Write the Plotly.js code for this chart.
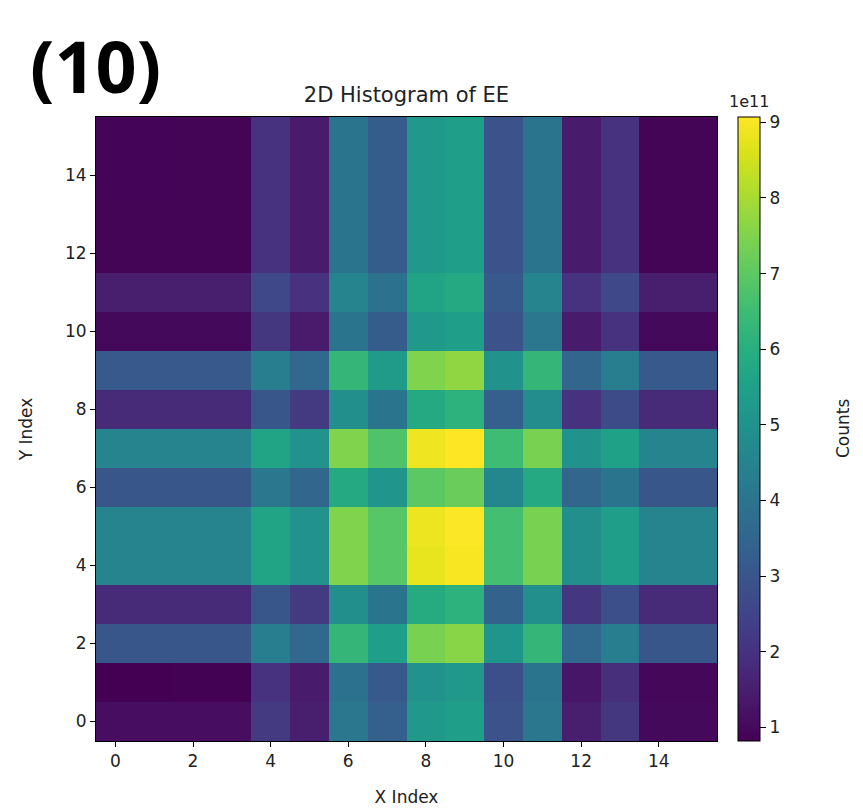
<!DOCTYPE html>
<html>
<head>
<meta charset="utf-8">
<script src="https://cdn.plot.ly/plotly-3.0.1.min.js"></script>
<style>html,body{margin:0;padding:0;background:#fff;}#chart{width:863px;height:808px;}</style>
</head>
<body>
<div id="chart"></div>
<script>
// Counts in units of 1e11; rows are Y index 0..15, columns X index 0..15
const xIndex = [0,1,2,3,4,5,6,7,8,9,10,11,12,13,14,15];
const yIndex = [0,1,2,3,4,5,6,7,8,9,10,11,12,13,14,15];
const row00 = [1.10,1.10,1.10,1.10, 2.2,1.5, 4.1,3.3, 5.2,5.4, 2.9,4.1, 1.5,2.1, 1.0,1.0];
const row01 = [0.82,0.82,0.85,0.85, 2.0,1.4, 3.9,3.1, 5.0,5.2, 2.8,4.0, 1.3,1.9, 0.95,0.95];
const row02 = [3.0,3.0,3.0,3.0, 4.3,3.6, 6.3,5.4, 7.4,7.6, 5.1,6.3, 3.6,4.3, 3.0,3.0];
const row03 = [1.8,1.8,1.8,1.8, 3.0,2.2, 4.9,4.0, 5.9,6.1, 3.4,4.9, 2.1,2.8, 1.8,1.8];
const row04 = [4.5,4.5,4.5,4.5, 5.6,5.0, 7.5,6.9, 8.8,9.0, 6.6,7.4, 4.9,5.4, 4.5,4.5];
const row05 = [4.5,4.5,4.5,4.5, 5.6,5.0, 7.5,6.9, 8.85,9.05, 6.6,7.4, 4.9,5.4, 4.5,4.5];
const row06 = [3.0,3.0,3.0,3.0, 4.1,3.5, 5.8,5.1, 7.0,7.2, 4.6,5.8, 3.5,4.0, 3.0,3.0];
const row07 = [4.5,4.5,4.5,4.5, 5.6,5.0, 7.5,6.8, 8.9,9.07, 6.5,7.4, 5.0,5.5, 4.5,4.5];
const row08 = [1.8,1.8,1.8,1.8, 3.0,2.2, 4.9,4.0, 5.8,6.1, 3.3,4.8, 2.0,2.7, 1.8,1.8];
const row09 = [3.1,3.1,3.1,3.1, 4.3,3.6, 6.3,5.3, 7.5,7.7, 5.0,6.3, 3.5,4.3, 3.1,3.1];
const row10 = [1.0,1.0,1.0,1.0, 2.1,1.4, 4.0,3.2, 5.2,5.4, 2.9,4.1, 1.4,2.0, 1.0,1.0];
const row11 = [1.5,1.5,1.5,1.5, 2.6,2.0, 4.5,3.9, 5.6,5.8, 3.1,4.5, 2.0,2.6, 1.5,1.5];
const row12 = [0.9,0.9,0.9,0.9, 2.0,1.4, 4.0,3.2, 5.2,5.4, 2.9,4.0, 1.4,2.0, 0.9,0.9];
const row13 = [0.9,0.9,0.9,0.9, 2.0,1.4, 4.0,3.2, 5.2,5.4, 2.9,4.0, 1.4,2.0, 0.9,0.9];
const row14 = [0.88,0.88,0.9,0.9, 2.0,1.4, 4.0,3.2, 5.2,5.4, 2.9,4.0, 1.4,2.0, 0.9,0.9];
const row15 = [0.88,0.88,0.9,0.9, 2.0,1.4, 4.0,3.2, 5.2,5.4, 2.9,4.0, 1.4,2.0, 0.9,0.9];
const axisTicks = [0,2,4,6,8,10,12,14];
const cbTickVals = [1,2,3,4,5,6,7,8,9];
const cbTickText = ['1','2','3','4','5','6','7','8','9'];

const z = [row00,row01,row02,row03,row04,row05,row06,row07,row08,row09,row10,row11,row12,row13,row14,row15];

const FONT = 'DejaVu Sans, sans-serif';
const TXT = '#222';

const trace = {
  type: 'heatmap',
  x: xIndex, y: yIndex, z: z,
  colorscale: 'Viridis',
  showscale: true,
  hoverinfo: 'skip',
  colorbar: {
    x: 1.0338, xanchor: 'left', xref: 'paper',
    y: 0.5, yanchor: 'middle', len: 1, lenmode: 'fraction',
    thickness: 22, thicknessmode: 'pixels',
    xpad: 0, ypad: 0,
    outlinewidth: 1, outlinecolor: '#000',
    ticks: 'outside', ticklen: 6, tickwidth: 1, tickcolor: '#000',
    ticklabelstandoff: 6,
    tickvals: cbTickVals, ticktext: cbTickText,
    tickfont: {family: FONT, size: 17, color: TXT}
  }
};

const axisCommon = {
  showline: true, mirror: true, linecolor: '#000', linewidth: 1,
  ticks: 'outside', ticklen: 5, tickwidth: 1, tickcolor: '#000',
  showgrid: false, zeroline: false, automargin: false,
  tickfont: {family: FONT, size: 17, color: TXT},
  tickvals: axisTicks, ticktext: axisTicks.map(String)
};

const layout = {
  width: 863, height: 808,
  margin: {l: 96, r: 146, t: 117, b: 67, pad: 0},
  paper_bgcolor: '#fff', plot_bgcolor: '#fff',
  font: {family: FONT, color: TXT},
  title: {
    text: '2D Histogram of EE',
    font: {family: FONT, size: 21, color: TXT},
    xref: 'paper', x: 0.5, xanchor: 'center',
    yref: 'container', y: 1 - 95/808, yanchor: 'middle'
  },
  xaxis: Object.assign({}, axisCommon, {
    range: [-0.5, 15.5],
    title: {text: 'X Index', font: {family: FONT, size: 17, color: TXT}, standoff: 20}
  }),
  yaxis: Object.assign({}, axisCommon, {
    range: [-0.5, 15.5],
    title: {text: 'Y Index', font: {family: FONT, size: 17, color: TXT}, standoff: 28}
  }),
  annotations: [
    {text: '<b>(10)</b>', xref: 'paper', yref: 'paper', x: -0.11, y: 1 + 52/624,
     xanchor: 'left', yanchor: 'middle', showarrow: false,
     font: {family: 'Open Sans, sans-serif', size: 72, color: '#000', weight: 800}},
    {text: '1e11', xref: 'paper', yref: 'paper', x: 1.0338 + 11/621, y: 1 + 16/624,
     xanchor: 'center', yanchor: 'middle', showarrow: false,
     font: {family: FONT, size: 16, color: TXT}},
    {text: 'Counts', xref: 'paper', yref: 'paper', x: 1 + (843-717)/621, y: 0.5,
     xanchor: 'center', yanchor: 'middle', showarrow: false, textangle: -90,
     font: {family: FONT, size: 17, color: TXT}}
  ]
};

Plotly.newPlot('chart', [trace], layout, {staticPlot: true, displayModeBar: false});
</script>
</body>
</html>
